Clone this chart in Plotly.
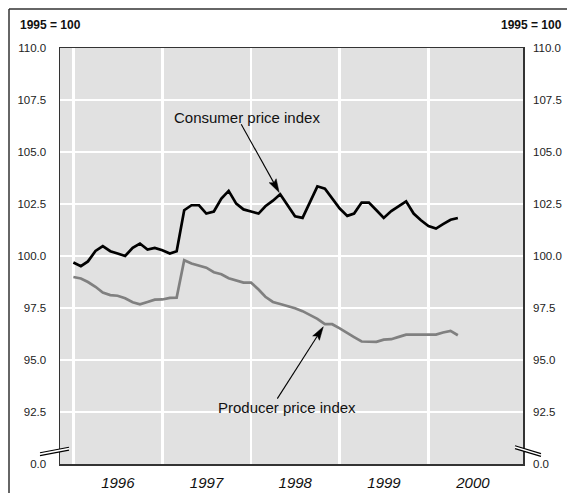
import math
import plotly.graph_objects as go
import pandas as pd

# ---- data -------------------------------------------------------------
months = pd.date_range("1996-01-01", periods=53, freq="MS")

cpi = [99.69, 99.51, 99.74, 100.24, 100.48, 100.23, 100.12, 100.00, 100.39, 100.60,
       100.31, 100.39, 100.28, 100.12, 100.23, 102.20, 102.44, 102.44, 102.04, 102.14,
       102.76, 103.13, 102.52, 102.24, 102.14, 102.04, 102.39, 102.66, 102.97, 102.44,
       101.91, 101.83, 102.60, 103.35, 103.24, 102.76, 102.28, 101.93, 102.04, 102.57,
       102.57, 102.20, 101.83, 102.16, 102.39, 102.63, 102.04, 101.72, 101.44, 101.32,
       101.53, 101.74, 101.83]

ppi = [98.99, 98.92, 98.75, 98.52, 98.24, 98.12, 98.09, 97.97, 97.78, 97.68,
       97.79, 97.90, 97.91, 97.99, 98.00, 99.80, 99.64, 99.54, 99.44, 99.22,
       99.12, 98.93, 98.81, 98.72, 98.72, 98.39, 98.04, 97.79, 97.69, 97.59,
       97.49, 97.35, 97.16, 96.98, 96.72, 96.72, 96.52, 96.32, 96.10, 95.89,
       95.87, 95.87, 95.98, 96.00, 96.11, 96.22, 96.22, 96.22, 96.22, 96.22,
       96.32, 96.40, 96.19]

years = ["1996", "1997", "1998", "1999", "2000"]
y_tickvals = [90, 92.5, 95, 97.5, 100, 102.5, 105, 107.5, 110]
y_ticktext = ["0.0", "92.5", "95.0", "97.5", "100.0", "102.5", "105.0", "107.5", "110.0"]
base_label = "1995 = 100"
cpi_label = "Consumer price index"
ppi_label = "Producer price index"
cpi_arrow_idx = 28
ppi_arrow_idx = 34

# ---- layout geometry --------------------------------------------------
W, H = 567, 493
ML, MR, MT, MB = 60, 44, 48, 29
PW, PH = W - ML - MR, H - MT - MB
X_RANGE = ["1995-11-07", "2001-01-24"]
Y_RANGE = [90, 110]


def px(x):
    return (x - ML) / PW


def py(y):
    return (H - MB - y) / PH


_t0 = pd.Timestamp(X_RANGE[0]).value
_t1 = pd.Timestamp(X_RANGE[1]).value


def data_px(t, v):
    xp = ML + PW * (pd.Timestamp(t).value - _t0) / (_t1 - _t0)
    yp = MT + PH * (Y_RANGE[1] - v) / (Y_RANGE[1] - Y_RANGE[0])
    return xp, yp


FONT = "Liberation Sans, Arial, Helvetica, sans-serif"
AXC = "#333333"

fig = go.Figure()
fig.add_trace(go.Scatter(x=months, y=ppi, mode="lines",
                         line=dict(color="#808080", width=2.7),
                         hoverinfo="skip", showlegend=False))
fig.add_trace(go.Scatter(x=months, y=cpi, mode="lines",
                         line=dict(color="#000000", width=2.7),
                         hoverinfo="skip", showlegend=False))
# invisible trace to anchor the right-hand axis
fig.add_trace(go.Scatter(x=[months[0]], y=[100], yaxis="y2", mode="markers",
                         marker=dict(opacity=0), hoverinfo="skip", showlegend=False))

mid_years = [f"{y}-07-02" for y in years]
jan_years = [f"{y}-01-01" for y in years]

fig.update_layout(
    template="none",
    width=W, height=H,
    autosize=False,
    margin=dict(l=ML, r=MR, t=MT, b=MB, pad=0, autoexpand=False),
    paper_bgcolor="white",
    plot_bgcolor="#e1e1e1",
    font=dict(family=FONT, color="#111111"),
    xaxis=dict(
        type="date",
        range=X_RANGE, automargin=False,
        tickmode="array", tickvals=mid_years, ticktext=years,
        showgrid=False, ticks="", ticklabelstandoff=4,
        tickfont=dict(size=15, style="italic", color="#111111"),
        showline=True, linecolor=AXC, linewidth=1.5, mirror=True,
        zeroline=False,
        minor=dict(tickmode="array", tickvals=jan_years, showgrid=True,
                   gridcolor="white", gridwidth=2.5, ticks=""),
    ),
    yaxis=dict(
        range=Y_RANGE, automargin=False,
        tickmode="array", tickvals=y_tickvals, ticktext=y_ticktext,
        showgrid=True, gridcolor="white", gridwidth=2.5,
        ticks="", ticklabelstandoff=10,
        tickfont=dict(size=11.5, color="#222222"),
        showline=True, linecolor=AXC, linewidth=1.5, mirror=True,
        zeroline=False,
    ),
    yaxis2=dict(
        overlaying="y", side="right", automargin=False,
        range=Y_RANGE,
        tickmode="array", tickvals=y_tickvals, ticktext=y_ticktext,
        showgrid=False, ticks="", ticklabelstandoff=9,
        tickfont=dict(size=11.5, color="#222222"),
        showline=False, zeroline=False,
    ),
    showlegend=False,
)

shapes = []
# black reference line at 100
shapes.append(dict(type="line", xref="paper", yref="y", x0=0, x1=1, y0=100, y1=100,
                   line=dict(color="black", width=1.5), layer="between"))
# outer frame (left and top)
shapes.append(dict(type="line", xref="paper", yref="paper",
                   x0=px(9), x1=px(9), y0=py(9), y1=py(H),
                   line=dict(color=AXC, width=1.5), layer="above"))
shapes.append(dict(type="line", xref="paper", yref="paper",
                   x0=px(9), x1=px(W), y0=py(9), y1=py(9),
                   line=dict(color=AXC, width=1.5), layer="above"))


# axis-break marks
def brk(x0, y0, x1, y1, gap):
    path = (f"M{px(x0)},{py(y0)} L{px(x1)},{py(y1)} "
            f"L{px(x1)},{py(y1 + gap)} L{px(x0)},{py(y0 + gap)} Z")
    out = [dict(type="path", xref="paper", yref="paper", path=path,
                fillcolor="white", line=dict(width=0), layer="above")]
    for g in (0, gap):
        out.append(dict(type="line", xref="paper", yref="paper",
                        x0=px(x0), y0=py(y0 + g), x1=px(x1), y1=py(y1 + g),
                        line=dict(color="black", width=1.1), layer="above"))
    return out


shapes += brk(40, 452.8, 69, 447.3, 2.8)
shapes += brk(515, 445.8, 541, 453.6, 2.8)


# arrows from label to the series
def arrow(t, v, dx, dy, standoff, head_len=13.5, head_half=4.0, notch=2.5):
    tx, ty = data_px(t, v)
    sx, sy = tx + dx, ty + dy
    L = math.hypot(tx - sx, ty - sy)
    ux, uy = (tx - sx) / L, (ty - sy) / L
    tx, ty = tx - ux * standoff, ty - uy * standoff
    nx, ny = -uy, ux
    bx, by = tx - ux * head_len, ty - uy * head_len
    kx, ky = tx - ux * (head_len - notch), ty - uy * (head_len - notch)
    out = [dict(type="line", xref="paper", yref="paper",
                x0=px(sx), y0=py(sy), x1=px(kx), y1=py(ky),
                line=dict(color="black", width=1.1), layer="above")]
    path = (f"M{px(tx)},{py(ty)} L{px(bx + nx * head_half)},{py(by + ny * head_half)} "
            f"L{px(kx)},{py(ky)} L{px(bx - nx * head_half)},{py(by - ny * head_half)} Z")
    out.append(dict(type="path", xref="paper", yref="paper", path=path,
                    fillcolor="black", line=dict(color="black", width=0.5), layer="above"))
    return out


shapes += arrow(months[cpi_arrow_idx], cpi[cpi_arrow_idx], -39, -70, 2)
shapes += arrow(months[ppi_arrow_idx], ppi[ppi_arrow_idx], -47.6, 74.4, 3)
fig.update_layout(shapes=shapes)

ann = []
ann.append(dict(text=f"<b>{base_label}</b>", xref="paper", yref="paper",
                x=px(18), y=py(25), xanchor="left", yanchor="middle",
                showarrow=False, font=dict(size=12, color="#111111")))
ann.append(dict(text=f"<b>{base_label}</b>", xref="paper", yref="paper",
                x=px(564), y=py(25), xanchor="right", yanchor="middle",
                showarrow=False, font=dict(size=12, color="#111111")))
ann.append(dict(text=cpi_label, xref="paper", yref="paper",
                x=px(247), y=py(118), xanchor="center", yanchor="middle",
                showarrow=False, font=dict(size=15, color="#111111")))
ann.append(dict(text=ppi_label, xref="paper", yref="paper",
                x=px(286.5), y=py(407.5), xanchor="center", yanchor="middle",
                showarrow=False, font=dict(size=15, color="#111111")))
fig.update_layout(annotations=ann)

fig.write_html("out.html", config={"displayModeBar": False, "staticPlot": True})

# keep the figure pinned to the window origin with no page margin / overflow
css = ("<style>html,body{margin:0;padding:0;overflow:hidden;width:567px;height:493px;}"
       ".plotly-graph-div{overflow:hidden;}</style>")
with open("out.html", "r", encoding="utf-8") as f:
    html = f.read()
html = html.replace("<head>", "<head>" + css, 1)
with open("out.html", "w", encoding="utf-8") as f:
    f.write(html)
